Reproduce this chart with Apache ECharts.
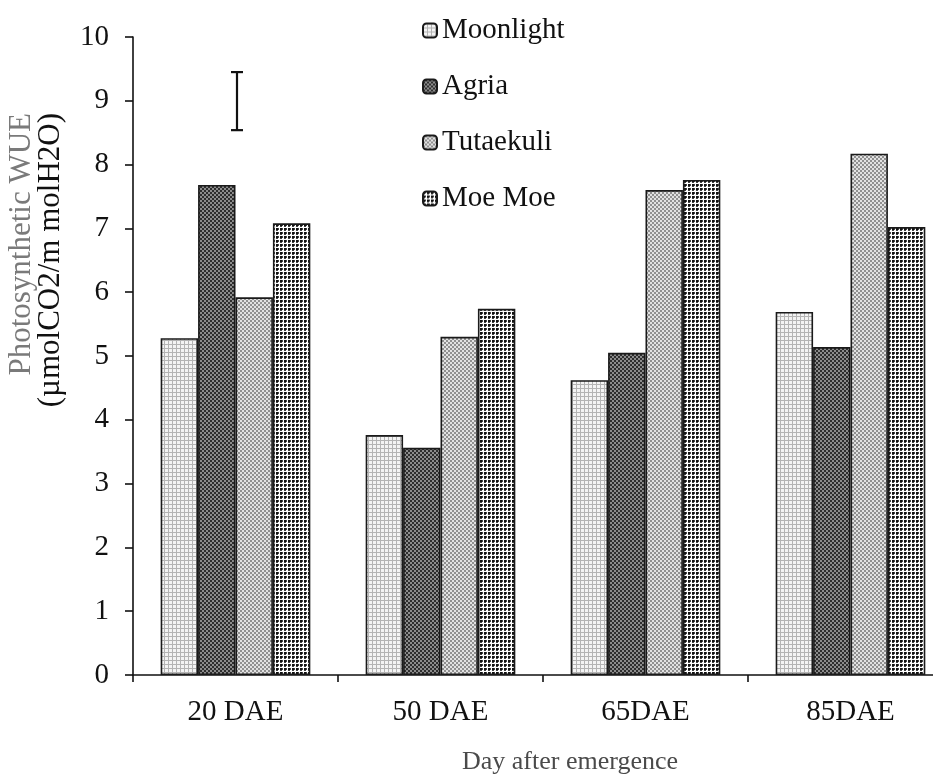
<!DOCTYPE html>
<html>
<head>
<meta charset="utf-8">
<title>Photosynthetic WUE</title>
<script src="https://cdn.jsdelivr.net/npm/echarts@6/dist/echarts.min.js"></script>
<style>
  html, body { margin: 0; padding: 0; background: #fff; }
  #chart { width: 933px; height: 774px; }
</style>
</head>
<body>
<div id="chart"></div>
<script>
// Sampling dates (days after emergence)
const categories = ['20 DAE', '50 DAE', '65DAE', '85DAE'];

// Photosynthetic WUE per cultivar
const moonlight = [5.28, 3.76, 4.62, 5.69];
const agria     = [7.68, 3.56, 5.05, 5.14];
const tutaekuli = [5.92, 5.30, 7.60, 8.17];
const moeMoe    = [7.08, 5.74, 7.76, 7.02];

// LSD bar drawn over the first group: [category index, low, high]
const lsdBar = [[0, 8.54, 9.45]];

// Y axis range
const yMin = 0, yMax = 10, yStep = 1;

const FONT = "'Liberation Serif', 'Times New Roman', serif";

// Small tiled canvases used as bar fills
function tile(size, draw) {
  const c = document.createElement('canvas');
  c.width = c.height = size;
  draw(c.getContext('2d'));
  return { image: c, repeat: 'repeat' };
}
function checker(a, b) {
  return tile(4, ctx => {
    ctx.fillStyle = a; ctx.fillRect(0, 0, 4, 4);
    ctx.fillStyle = b; ctx.fillRect(0, 0, 2, 2); ctx.fillRect(2, 2, 2, 2);
  });
}
const fillMoonlight = tile(4, ctx => {
  ctx.fillStyle = '#f4f4f4'; ctx.fillRect(0, 0, 4, 4);
  ctx.fillStyle = '#b4b4b4'; ctx.fillRect(0, 0, 4, 1); ctx.fillRect(0, 0, 1, 4);
});
const fillAgria = checker('#2e2e2e', '#8c8c8c');
const fillTutaekuli = checker('#909090', '#e2e2e2');
const fillMoeMoe = tile(4, ctx => {
  ctx.fillStyle = '#ffffff'; ctx.fillRect(0, 0, 4, 4);
  ctx.fillStyle = '#111111'; ctx.fillRect(0, 0, 2, 2);
  ctx.fillStyle = '#444444'; ctx.fillRect(2, 0, 1, 2); ctx.fillRect(0, 2, 2, 1);
});

function barSeries(name, data, fill) {
  return {
    name: name,
    type: 'bar',
    data: data,
    barGap: '0%',
    barCategoryGap: '27%',
    itemStyle: { color: fill, borderColor: '#1a1a1a', borderWidth: 1.6 }
  };
}

const chart = echarts.init(document.getElementById('chart'), null, { renderer: 'canvas' });

chart.setOption({
  animation: false,
  backgroundColor: '#ffffff',
  textStyle: { fontFamily: FONT },
  // the last category runs past the right edge and is cut off there
  grid: { left: 133, top: 37, width: 820, height: 638, containLabel: false, outerBoundsMode: 'none' },
  legend: {
    orient: 'vertical',
    left: 417,
    top: 11,
    itemWidth: 14,
    itemHeight: 14,
    itemGap: 27,
    data: ['Moonlight', 'Agria', 'Tutaekuli', 'Moe Moe'],
    textStyle: { fontFamily: FONT, fontSize: 29, color: '#111' }
  },
  xAxis: {
    type: 'category',
    data: categories,
    axisLine: { lineStyle: { color: '#111', width: 1.6 } },
    axisTick: { show: true, length: 7, lineStyle: { color: '#111', width: 1.6 } },
    axisLabel: { fontFamily: FONT, fontSize: 29, color: '#111', margin: 23 },
    name: 'Day after emergence',
    nameLocation: 'middle',
    nameGap: 74,
    nameTextStyle: { fontFamily: FONT, fontSize: 26, color: '#4a4a4a', padding: [0, 0, 0, 54] }
  },
  yAxis: {
    type: 'value',
    min: yMin, max: yMax, interval: yStep,
    splitLine: { show: false },
    axisLine: { show: true, lineStyle: { color: '#111', width: 1.6 } },
    axisTick: { show: true, length: 8, lineStyle: { color: '#111', width: 1.6 } },
    axisLabel: { fontFamily: FONT, fontSize: 29, color: '#111', margin: 24 }
  },
  graphic: [
    {
      type: 'text', x: 22, y: 113, rotation: Math.PI / 2,
      style: { text: 'Photosynthetic WUE', font: '31px ' + FONT, fill: '#7a7a7a',
               align: 'right', verticalAlign: 'middle' }
    },
    {
      type: 'text', x: 51, y: 113, rotation: Math.PI / 2,
      style: { text: '(\u00b5molCO2/m molH2O)', font: '31px ' + FONT, fill: '#111',
               align: 'right', verticalAlign: 'middle' }
    }
  ],
  series: [
    barSeries('Moonlight', moonlight, fillMoonlight),
    barSeries('Agria', agria, fillAgria),
    barSeries('Tutaekuli', tutaekuli, fillTutaekuli),
    barSeries('Moe Moe', moeMoe, fillMoeMoe),
    {
      name: 'LSD',
      type: 'custom',
      data: lsdBar,
      z: 5,
      renderItem: function (params, api) {
        const lo = api.coord([api.value(0), api.value(1)]);
        const hi = api.coord([api.value(0), api.value(2)]);
        const x = lo[0] + 1.5;
        const cap = 6;
        const style = { stroke: '#111', lineWidth: 2.2 };
        return {
          type: 'group',
          children: [
            { type: 'line', shape: { x1: x, y1: lo[1], x2: x, y2: hi[1] }, style: style },
            { type: 'line', shape: { x1: x - cap, y1: lo[1], x2: x + cap, y2: lo[1] }, style: style },
            { type: 'line', shape: { x1: x - cap, y1: hi[1], x2: x + cap, y2: hi[1] }, style: style }
          ]
        };
      }
    }
  ]
});
</script>
</body>
</html>
